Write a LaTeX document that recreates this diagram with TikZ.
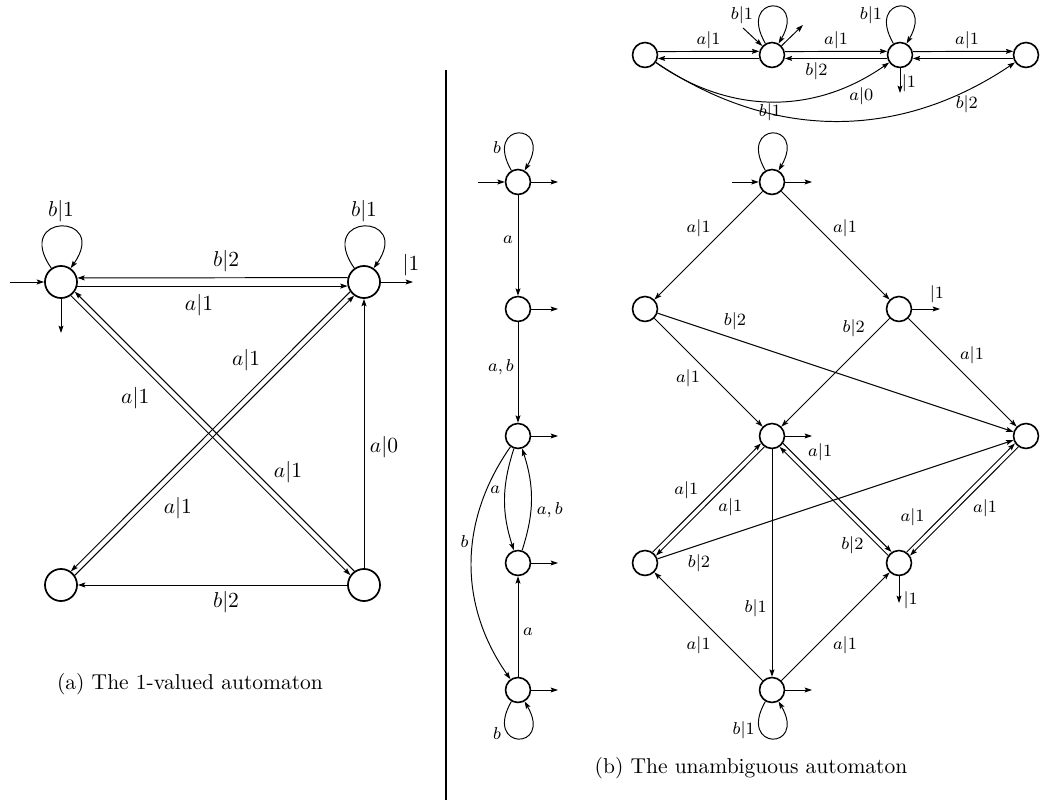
\documentclass[tikz,border=0pt]{standalone}
\usetikzlibrary{arrows.meta}
\begin{document}
\begin{tikzpicture}[x=0.465pt,y=0.465pt,
  >={Stealth[length=3.4pt,width=2.3pt,inset=0.6pt]},
  sa/.style={circle,draw,line width=0.8pt,minimum size=14.9pt,inner sep=0pt},
  sb/.style={circle,draw,line width=0.75pt,minimum size=11.6pt,inner sep=0pt},
  ed/.style={line width=0.45pt,->},
  la/.style={font=\normalsize,inner sep=0pt},
  lb/.style={font=\fontsize{8.2}{9}\selectfont,inner sep=0pt}]
\useasboundingbox (0,0) rectangle (1051,-811);

% ---------- (a) ----------
\node[sa] (TL) at (61,-282) {};
\node[sa] (TR) at (364,-282) {};
\node[sa] (BL) at (61,-585) {};
\node[sa] (BR) at (364,-585) {};
\draw[ed] (TR.165.5) -- node[la,shift={(13.5,17)}]{$b|2$} (TL.14.5);
\draw[ed] (TL.-14.5) -- node[la,shift={(-13.5,-19.5)}]{$a|1$} (TR.194.5);
\draw[ed] (TL.-54.4) -- node[la,shift={(-75.4,37.6)}]{$a|1$} (BR.144.4);
\draw[ed] (BR.125.6) -- node[la,shift={(73.4,-40.6)}]{$a|1$} (TL.-35.6);
\draw[ed] (TR.215.6) -- node[la,shift={(35.6,71.4)}]{$a|1$} (BL.54.4);
\draw[ed] (BL.35.6) -- node[la,shift={(-36.6,-72.4)}]{$a|1$} (TR.234.4);
\draw[ed] (BR) -- node[la,shift={(20,-13.5)}]{$a|0$} (TR);
\draw[ed] (BR) -- node[la,shift={(13.5,-17)}]{$b|2$} (BL);
\draw[ed] (TL.125) .. controls +(125:68) and +(55:68) .. node[la,shift={(0,15)}]{$b|1$} (TL.55);
\draw[ed] (TR.125) .. controls +(125:68) and +(55:68) .. node[la,shift={(0,15)}]{$b|1$} (TR.55);
\coordinate (TLi) at (10,-282);
\coordinate (TLf) at (61,-333);
\coordinate (TRf) at (413,-282);
\draw[ed] (TLi) -- (TL);
\draw[ed] (TL) -- (TLf);
\draw[ed] (TR) -- node[la,pos=1,shift={(-2,17)}]{$|1$} (TRf);
\node[la] (capa) at (190,-684) {(a) The 1-valued automaton};

% divider
\draw[line width=0.8pt] (446,-70) -- (446,-800);

% ---------- (b) top ----------
\node[sb] (m1) at (645,-55) {};
\node[sb] (m2) at (772,-55) {};
\node[sb] (m3) at (900,-55) {};
\node[sb] (m4) at (1026,-55) {};
\draw[ed] (m1.15.3) -- node[lb,shift={(0,11.7)}]{$a|1$} (m2.164.7);
\draw[ed] (m2.195.3) -- (m1.-15.3);
\draw[ed] (m2.15.3) -- node[lb,shift={(0,11.7)}]{$a|1$} (m3.164.7);
\draw[ed] (m3.195.3) -- node[lb,shift={(-19.5,-12.7)}]{$b|2$} (m2.-15.3);
\draw[ed] (m3.15.3) -- node[lb,shift={(4,11.7)}]{$a|1$} (m4.164.7);
\draw[ed] (m4.195.3) -- (m3.-15.3);
\draw[ed] (m1) to[bend right=35] node[lb,pos=0.8,shift={(18,-8.5)}]{$a|0$} (m3);
\draw[ed] (m1) to[bend right=34] node[lb,pos=0.8,shift={(22.6,-4.2)}]{$b|2$} (m4);
\draw[ed] (m2.120) .. controls +(120:57) and +(60:57) .. node[lb,shift={(-30,-9)}]{$b|1$} (m2.60);
\draw[ed] (m3.120) .. controls +(120:57) and +(60:57) .. node[lb,shift={(-29,-9)}]{$b|1$} (m3.60);
\coordinate (m2i) at (743,-28);
\coordinate (m2f) at (803,-25);
\coordinate (m3f) at (900,-93);
\draw[ed] (m2i) -- (m2);
\draw[ed] (m2) -- (m2f);
\draw[ed] (m3) -- node[lb,pos=1,shift={(9,10)}]{$|1$} (m3f);

% ---------- (b) middle column ----------
\node[sb] (c1) at (518,-182) {};
\node[sb] (c2) at (518,-309) {};
\node[sb] (c3) at (518,-436) {};
\node[sb] (c4) at (518,-563) {};
\node[sb] (c5) at (518,-690) {};
\draw[ed] (c1) -- node[lb,shift={(-10,5.5)}]{$a$} (c2);
\draw[ed] (c2) -- node[lb,shift={(-17,5.5)}]{$a,b$} (c3);
\draw[ed] (c3) to[bend right=18] node[lb,shift={(-9.5,9.5)}]{$a$} (c4);
\draw[ed] (c4) to[bend right=18] node[lb,shift={(18.5,-10.5)}]{$a,b$} (c3);
\draw[ed] (c3) to[bend right=35] node[lb,shift={(-7,21)}]{$b$} (c5);
\draw[ed] (c5) -- node[lb,shift={(10,-5.5)}]{$a$} (c4);
\draw[ed] (c1.120) .. controls +(120:57) and +(60:57) .. node[lb,shift={(-21,-14)}]{$b$} (c1.60);
\draw[ed] (c5.-120) .. controls +(-120:57) and +(-60:57) .. node[lb,shift={(-21,5)}]{$b$} (c5.-60);
\coordinate (c1i) at (478,-182);
\draw[ed] (c1i) -- (c1);
\coordinate (c1f) at (558,-182);
\coordinate (c2f) at (558,-309);
\coordinate (c3f) at (558,-436);
\coordinate (c4f) at (558,-563);
\coordinate (c5f) at (558,-690);
\draw[ed] (c1) -- (c1f);
\draw[ed] (c2) -- (c2f);
\draw[ed] (c3) -- (c3f);
\draw[ed] (c4) -- (c4f);
\draw[ed] (c5) -- (c5f);

% ---------- (b) grid ----------
\node[sb] (p0) at (772,-182) {};
\node[sb] (p1) at (645,-309) {};
\node[sb] (p2) at (899,-309) {};
\node[sb] (p3) at (772,-436) {};
\node[sb] (p4) at (1026,-436) {};
\node[sb] (p5) at (645,-563) {};
\node[sb] (p6) at (899,-563) {};
\node[sb] (p7) at (772,-690) {};
\draw[ed] (p0) -- node[lb,shift={(-9.8,17.5)}]{$a|1$} (p1);
\draw[ed] (p0) -- node[lb,shift={(9.5,17.5)}]{$a|1$} (p2);
\draw[ed] (p1) -- node[lb,shift={(-20.5,-5.5)}]{$a|1$} (p3);
\draw[ed] (p1) -- node[lb,shift={(-100.5,50.8)}]{$b|2$} (p4);
\draw[ed] (p2) -- node[lb,shift={(18.2,44.5)}]{$b|2$} (p3);
\draw[ed] (p2) -- node[lb,shift={(9.5,17.5)}]{$a|1$} (p4);
\draw[ed] (p5.55.8) -- node[lb,shift={(-20.5,7.2)}]{$a|1$} (p3.214.2);
\draw[ed] (p3.235.8) -- node[lb,shift={(20.2,-6.2)}]{$a|1$} (p5.34.2);
\draw[ed] (p3.-34.2) -- node[lb,shift={(-17.1,45.5)}]{$a|1$} (p6.124.2);
\draw[ed] (p6.145.8) -- node[lb,shift={(18.5,-43.9)}]{$b|2$} (p3.-55.8);
\draw[ed] (p6.55.8) -- node[lb,shift={(-48.2,-19.5)}]{$a|1$} (p4.214.2);
\draw[ed] (p4.235.8) -- node[lb,shift={(20.9,-6.5)}]{$a|1$} (p6.34.2);
\draw[ed] (p5) -- node[lb,shift={(-136.5,-63.8)}]{$b|2$} (p4);
\draw[ed] (p3) -- node[lb,shift={(-16.3,-45.3)}]{$b|1$} (p7);
\draw[ed] (p7) -- node[lb,shift={(-9.8,-18.5)}]{$a|1$} (p5);
\draw[ed] (p7) -- node[lb,shift={(9.5,-18.5)}]{$a|1$} (p6);
\draw[ed] (p0.120) .. controls +(120:57) and +(60:57) .. node[lb,shift={(-2,21)}]{$b|1$} (p0.60);
\draw[ed] (p7.-120) .. controls +(-120:57) and +(-60:57) .. node[lb,shift={(-28.3,8)}]{$b|1$} (p7.-60);
\coordinate (p0i) at (732,-182);
\coordinate (p0f) at (812,-182);
\coordinate (p2f) at (940,-309);
\coordinate (p3f) at (812,-436);
\coordinate (p6f) at (899,-603);
\coordinate (p7f) at (812,-690);
\draw[ed] (p0i) -- (p0);
\draw[ed] (p0) -- (p0f);
\draw[ed] (p2) -- node[lb,pos=1,shift={(-3,15)}]{$|1$} (p2f);
\draw[ed] (p3) -- (p3f);
\draw[ed] (p6) -- node[lb,pos=1,shift={(11.7,3)}]{$|1$} (p6f);
\draw[ed] (p7) -- (p7f);
\node[la] (capb) at (751,-768) {(b) The unambiguous automaton};
\end{tikzpicture}
\end{document}
